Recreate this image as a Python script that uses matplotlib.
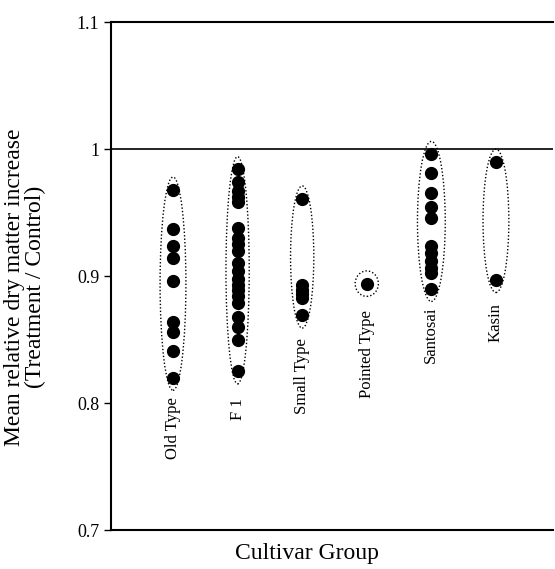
import numpy as np
import matplotlib.pyplot as plt
from matplotlib.patches import Ellipse

plt.rcParams['font.family'] = ['Liberation Serif', 'DejaVu Serif']

# grupos de cultivares y valores
grupos = ["Old Type", "F 1", "Small Type", "Pointed Type", "Santosai", "Kasin"]

old_type = [0.968, 0.937, 0.924, 0.914, 0.896, 0.864, 0.856, 0.841, 0.820]
f1 = [0.984, 0.974, 0.967, 0.962, 0.958, 0.938, 0.930, 0.925, 0.920, 0.910,
      0.904, 0.898, 0.893, 0.889, 0.884, 0.879, 0.868, 0.860, 0.850, 0.825]
small_type = [0.961, 0.893, 0.889, 0.886, 0.883, 0.869]
pointed_type = [0.894]
santosai = [0.996, 0.981, 0.965, 0.954, 0.946, 0.924, 0.918, 0.912, 0.906,
            0.902, 0.890]
kasin = [0.990, 0.897]

valores = [old_type, f1, small_type, pointed_type, santosai, kasin]

# ------------------------
# Figura
# ------------------------

fig = plt.figure(figsize=(5.55, 5.69), dpi=100)
ax = fig.add_axes([0.2, 0.0685, 0.796, 0.8928])

anchos = [0.40, 0.36, 0.36, 0.36, 0.43, 0.40]
etiqueta_top = [0.805, 0.804, 0.851, 0.873, 0.876, 0.879]

for i, (g, v) in enumerate(zip(grupos, valores)):
    xpos = i + 1
    ax.plot([xpos] * len(v), v, 'o', color='black', ms=8.5, zorder=3)
    centro = (max(v) + min(v)) / 2
    alto = max(v) - min(v) + 0.02
    el = Ellipse((xpos, centro), anchos[i], alto, fill=False,
                 edgecolor='black', linestyle=(0, (1, 1.5)), linewidth=1.0)
    ax.add_patch(el)
    ax.text(xpos, etiqueta_top[i], g, rotation=90, ha='center', va='top',
            fontsize=12)

ax.axhline(1.0, color='black', linewidth=1.2)

ax.set_xlim(0.04, 6.88)
ax.set_ylim(0.7, 1.1)
ax.set_yticks([0.7, 0.8, 0.9, 1.0, 1.1])
ax.set_yticklabels(["0.7", "0.8", "0.9", "1", "1.1"], fontsize=13)
ax.set_xticks([])
ax.tick_params(axis='y', direction='out', length=5, width=1)

ax.spines['right'].set_visible(False)
for s in ['left', 'top', 'bottom']:
    ax.spines[s].set_linewidth(1.5)

fig.text(25 / 555, 1 - 287 / 569,
         "Mean relative dry matter increase\n(Treatment / Control)",
         rotation=90, ha='center', va='center', fontsize=17,
         multialignment='center', linespacing=1.0)
fig.text(307 / 555, 1 - 553 / 569, "Cultivar Group", ha='center',
         va='center', fontsize=17)

plt.savefig("out.png", dpi=100)
